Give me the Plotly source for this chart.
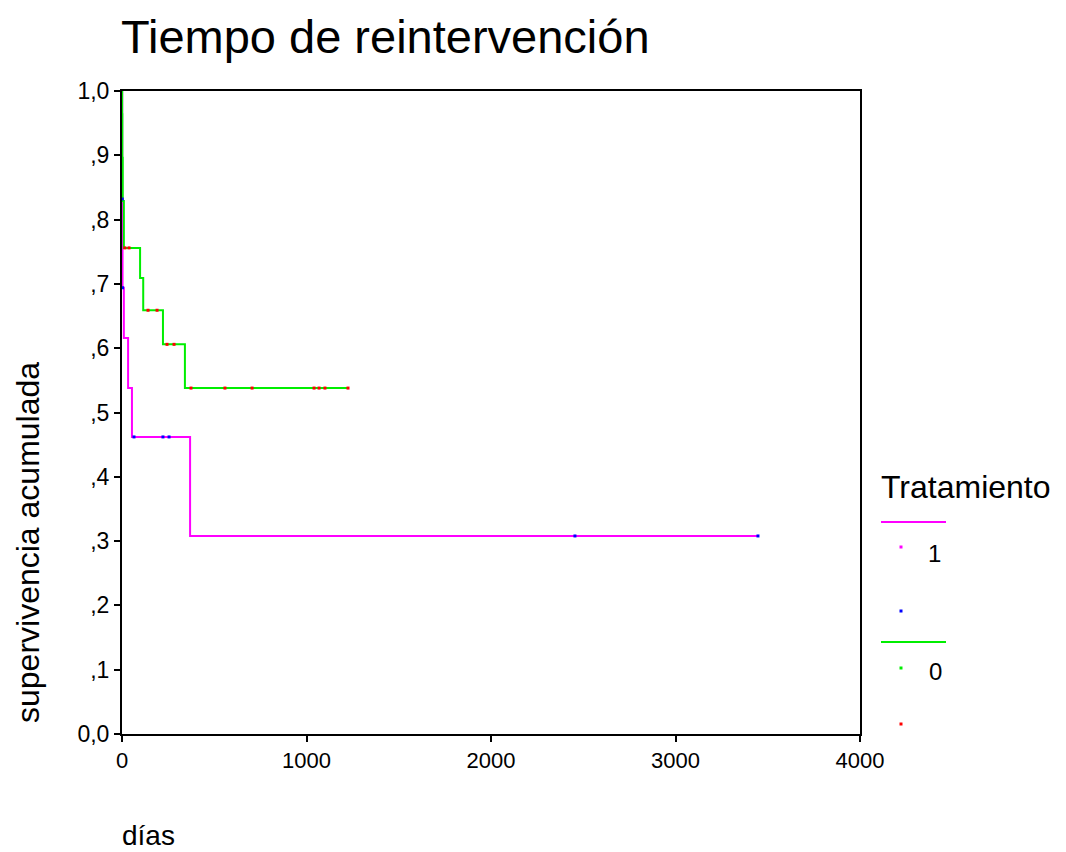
import plotly.graph_objects as go

# Group 1 (magenta) Kaplan-Meier steps
g1_t = [0, 1, 3, 10, 33, 54, 369, 3447]
g1_s = [1.0, 0.832, 0.694, 0.616, 0.538, 0.462, 0.308, 0.308]
g1_cens_t = [1, 3, 65, 222, 255, 2455, 3447]
g1_cens_s = [0.832, 0.694, 0.462, 0.462, 0.462, 0.308, 0.308]

# Group 0 (green) Kaplan-Meier steps
g0_t = [0, 1, 2, 4, 10, 98, 115, 222, 341, 1225]
g0_s = [1.0, 0.964, 0.896, 0.829, 0.756, 0.709, 0.659, 0.606, 0.538, 0.538]
g0_cens_t = [16, 38, 141, 190, 244, 282, 374, 558, 705, 1041, 1068, 1100, 1225]
g0_cens_s = [0.756, 0.756, 0.659, 0.659, 0.606, 0.606, 0.538, 0.538, 0.538, 0.538, 0.538, 0.538, 0.538]

x_ticks = [0, 1000, 2000, 3000, 4000]
y_ticks = [0.0, 0.1, 0.2, 0.3, 0.4, 0.5, 0.6, 0.7, 0.8, 0.9, 1.0]
y_tick_labels = ["0,0", ",1", ",2", ",3", ",4", ",5", ",6", ",7", ",8", ",9", "1,0"]

MAG = "#ff00ff"
GRN = "#00ee00"
BLU = "#0000ff"
RED = "#ff0000"
FONT = "Liberation Sans, Arial, sans-serif"

fig = go.Figure()
fig.add_trace(go.Scatter(x=g1_t, y=g1_s, mode="lines", line=dict(color=MAG, width=2, shape="hv"), showlegend=False))
fig.add_trace(go.Scatter(x=g0_t, y=g0_s, mode="lines", line=dict(color=GRN, width=2, shape="hv"), showlegend=False))
fig.add_trace(go.Scatter(x=g1_cens_t, y=g1_cens_s, mode="markers", marker=dict(color=BLU, size=3, symbol="square"), showlegend=False))
fig.add_trace(go.Scatter(x=g0_cens_t, y=g0_cens_s, mode="markers", marker=dict(color=RED, size=3, symbol="square"), showlegend=False))

O = 7  # page offset of the plot div
W, H = 1066 - O, 852 - O - 1
L, R, T, B = 121 - O, 859 - O, 90 - O, 733 - O

def px(x):
    return (x - O - L) / (R - L)

def py(y):
    return (B - (y - O)) / (B - T)

shapes = [
    dict(type="line", xref="paper", yref="paper", x0=px(880), x1=px(945), y0=py(521), y1=py(521), line=dict(color=MAG, width=2)),
    dict(type="line", xref="paper", yref="paper", x0=px(880), x1=px(945), y0=py(641), y1=py(641), line=dict(color=GRN, width=2)),
]
dots = [(900, 546, MAG), (900, 610, BLU), (900, 667, GRN), (900, 723, RED)]
for (dx, dy, c) in dots:
    shapes.append(dict(type="rect", xref="paper", yref="paper", x0=px(dx - 1.5), x1=px(dx + 1.5), y0=py(dy + 1.5), y1=py(dy - 1.5), line=dict(width=0), fillcolor=c))

annotations = [
    dict(text="Tratamiento", xref="paper", yref="paper", x=px(878), y=py(486), xanchor="left", yanchor="middle", showarrow=False, font=dict(family=FONT, size=32, color="black")),
    dict(text="1", xref="paper", yref="paper", x=px(933), y=py(552), xanchor="center", yanchor="middle", showarrow=False, font=dict(family=FONT, size=24, color="black")),
    dict(text="0", xref="paper", yref="paper", x=px(934), y=py(670), xanchor="center", yanchor="middle", showarrow=False, font=dict(family=FONT, size=24, color="black")),
    dict(text="supervivencia acumulada", xref="paper", yref="paper", x=px(27), y=py(542), xanchor="center", yanchor="middle", textangle=-90, showarrow=False, font=dict(family=FONT, size=32, color="black")),
    dict(text="días", xref="paper", yref="paper", x=px(119), y=py(834), xanchor="left", yanchor="middle", showarrow=False, font=dict(family=FONT, size=28, color="black")),
]

fig.update_layout(
    width=W, height=H,
    margin=dict(l=L, r=W - R, t=T, b=H - B),
    paper_bgcolor="white", plot_bgcolor="white",
    title=dict(text="Tiempo de reintervención", x=(120 - O) / W, xanchor="left", y=1 - (36 - O) / H, yanchor="middle",
               font=dict(family=FONT, size=47, color="black")),
    shapes=shapes, annotations=annotations,
    showlegend=False,
)
fig.update_xaxes(range=[0, 4000], tickvals=x_ticks, ticktext=[str(v) for v in x_ticks],
                 showgrid=False, zeroline=False, showline=True, linecolor="black", linewidth=2, mirror=True,
                 ticks="outside", ticklen=6, tickwidth=2, tickcolor="black",
                 tickfont=dict(family=FONT, size=22, color="black"))
fig.update_yaxes(range=[0, 1.0], tickvals=y_ticks, ticktext=y_tick_labels,
                 showgrid=False, zeroline=False, showline=True, linecolor="black", linewidth=2, mirror=True,
                 ticks="outside", ticklen=6, tickwidth=2, tickcolor="black",
                 tickfont=dict(family=FONT, size=23, color="black"))

fig.write_html("out.html")
